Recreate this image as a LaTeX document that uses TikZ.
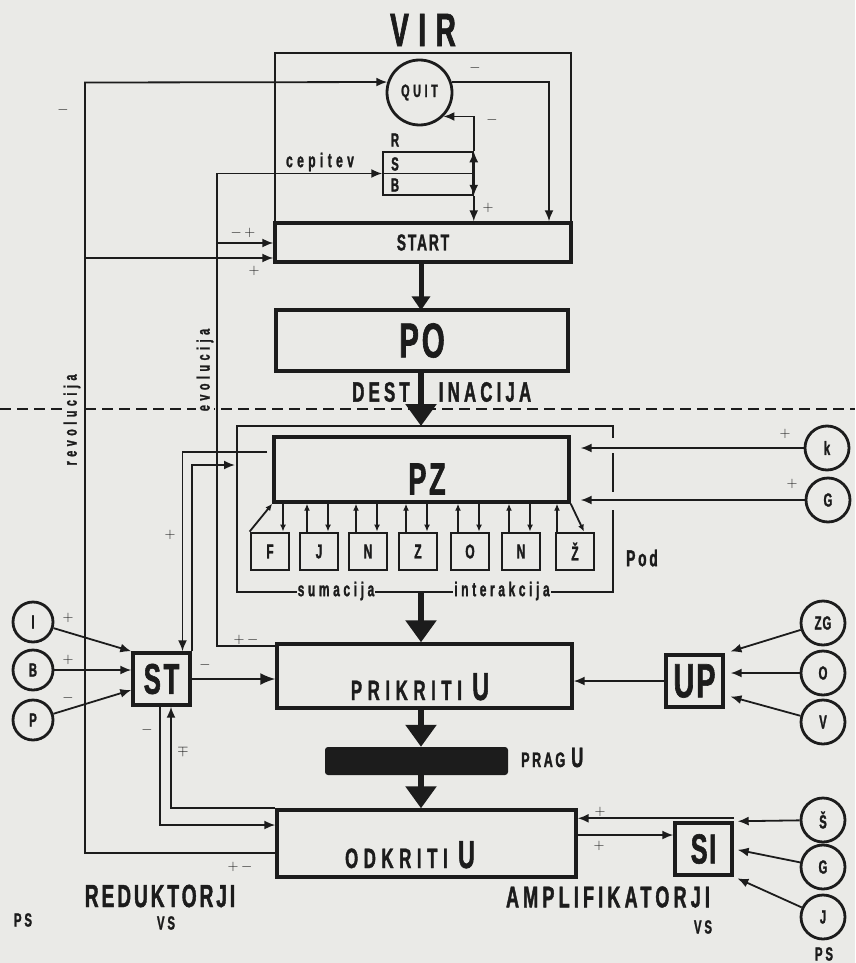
\documentclass[tikz,border=0pt]{standalone}
\usepackage{fontspec}
\usetikzlibrary{arrows.meta}
\newfontfamily\cond{Liberation Sans}[FakeStretch=0.6, FakeBold=1.3]
\newcommand\cfont[2]{\cond\bfseries\fontsize{#1}{#1}\selectfont\addfontfeature{LetterSpace=#2}}
\definecolor{paper}{RGB}{234,234,231}
\definecolor{ink}{RGB}{28,28,28}

\tikzset{
  mainbox/.style={draw=ink, text=ink, line width=3.4pt, inner sep=0pt},
  subbox/.style={draw=ink, text=ink, line width=2.8pt, minimum width=38pt, minimum height=37pt, inner sep=0pt, font=\cfont{20}{0}},
  srccircle/.style={draw=ink, text=ink, circle, line width=2.8pt, minimum size=44pt, inner sep=0pt, font=\cfont{19}{5}},
  link/.style={draw=ink, line width=1.8pt, ->},
  smalllink/.style={link, >={Latex[length=7pt,width=6pt]}},
  flowarrow/.style={draw=ink, line width=6pt, -{Triangle[length=22pt,width=30pt]}},
  signlbl/.style={text=ink, font=\fontsize{15}{15}\selectfont, inner sep=0pt},
  lbl/.style={text=ink, inner sep=1pt},
}

\begin{document}
\begin{tikzpicture}[x=1pt, y=-1pt, >={Latex[length=11pt,width=9pt]}]
\fill[paper] (0,0) rectangle (855,963);
\useasboundingbox (0,0) rectangle (855,963);

% VIR
\node[lbl, font=\cfont{47}{20}] (vir) at (423,30) {VIR};
\draw[ink, line width=1.5pt] (275,53) rectangle (571,262);
\node[mainbox, minimum width=296pt, minimum height=39pt, font=\cfont{23}{8}] (start) at (423,242.5) {START};
\node[srccircle, minimum size=65pt, font=\cfont{18}{20}] (quit) at (419.5,92.5) {QUIT};
\node[draw=ink, line width=1.5pt, minimum width=90pt, minimum height=43pt, inner sep=0pt] (rsb) at (428,173.5) {};
\draw[ink, line width=1.5pt] (rsb.west) -- (rsb.east);
\node[lbl, font=\cfont{19}{0}] (lr) at (395,140) {R};
\node[lbl, font=\cfont{19}{0}] (ls) at (395,164) {S};
\node[lbl, font=\cfont{19}{0}] (lb) at (395,185) {B};
\node[lbl, font=\cfont{20}{22}] (cepitev) at (320,162) {cepitev};

\coordinate (qsX) at (549,0);
\draw[link] (quit.18) -| (qsX |- start.north);
\draw[link] (rsb.north east) |- (quit.-45);
\draw[link] (rsb.east) -- (rsb.north east);
\draw[link] (rsb.east) -- (rsb.south east);
\draw[link] (rsb.south east) -- (rsb.south east |- start.north);

\node[signlbl] (m1) at (475,68) {$-$};
\node[signlbl] (m2) at (492,120) {$-$};
\node[signlbl] (p1) at (488,208) {$+$};

% dashed border
\draw[ink, line width=1.8pt, dash pattern=on 11pt off 6pt] (0,409) -- (855,409);

% PO
\node[mainbox, minimum width=292pt, minimum height=61pt, font=\cfont{49}{6}] (po) at (422,340.5) {PO};
\node[lbl, font=\cfont{28}{15}] (dest) at (381,392) {DEST};
\node[lbl, font=\cfont{28}{15}] (inacija) at (485,392) {INACIJA};

% Pod frame
\draw[ink, line width=1.4pt] (613,438) -- (613,426) -- (237,426) -- (237,592) -- (613,592) -- (613,510);
\draw[ink, line width=1.4pt] (613,453) -- (613,492);
\node[lbl, fill=paper, font=\cfont{20}{18}] (sumacija) at (336,591) {sumacija};
\node[lbl, fill=paper, font=\cfont{20}{18}] (interakcija) at (502,591) {interakcija};
\node[lbl, font=\cfont{23}{12}] (pod) at (642,558) {Pod};
\coordinate (podtop) at (421,426);
\coordinate (podbot) at (421,592);

% PZ
\node[mainbox, minimum width=295pt, minimum height=65pt] (pz) at (421.5,469.5) {};
\node[lbl, font=\cfont{45}{6}] (pztxt) at (427,479) {PZ};

\foreach \x/\t [count=\i] in {270/F, 319/J, 368/N, 418/Z, 470/O, 521/N, 575/Ž}
  \node[subbox] (s\i) at (\x,551.5) {\t};

\foreach \i in {2,...,6} {
  \coordinate (u\i) at ([xshift=-12pt]s\i.north);
  \coordinate (d\i) at ([xshift=9pt]s\i.north);
  \draw[smalllink] (u\i) -- (u\i |- pz.south);
  \draw[smalllink] (d\i |- pz.south) -- (d\i);
}
\coordinate (d1) at ([xshift=13pt]s1.north);
\draw[smalllink] (s1.north west) -- (pz.south west);
\draw[smalllink] (d1 |- pz.south) -- (d1);
\coordinate (u7) at ([xshift=-18pt]s7.north);
\draw[smalllink] (u7) -- (u7 |- pz.south);
\draw[smalllink] (pz.south east) -- ([xshift=9pt]s7.north);

\node[srccircle] (ck) at (827,448) {k};
\node[srccircle] (cg) at (828,500) {G};
\draw[link, shorten >=10pt] (ck) -- (ck -| pz.east);
\draw[link, shorten >=10pt] (cg) -- (cg -| pz.east);
\node[signlbl] (p2) at (785,434) {$+$};
\node[signlbl] (p3) at (792,484) {$+$};

% PRIKRITI, PRAG, ODKRITI
\node[mainbox, minimum width=295pt, minimum height=64pt] (prikriti) at (424.5,676) {};
\node[lbl, anchor=base, font=\cfont{28}{20}] (prtxt) at (420,700) {PRIKRITI {\fontsize{39}{39}\selectfont U}};
\node[fill=ink, rounded corners=3pt, minimum width=183pt, minimum height=28pt, inner sep=0pt] (prag) at (416.5,761) {};
\node[lbl, anchor=base west, font=\cfont{21}{12}] (pragtxt) at (520,767) {PRAG {\fontsize{28}{28}\selectfont U}};
\node[mainbox, minimum width=299pt, minimum height=67pt] (odkriti) at (426.5,843.5) {};
\node[lbl, anchor=base, font=\cfont{28}{20}] (odtxt) at (410,868) {ODKRITI {\fontsize{39}{39}\selectfont U}};

% main flow
\coordinate (midx) at (421,0);
\draw[draw=ink, line width=5pt, -{Triangle[length=14pt,width=18pt]}] (midx |- start.south) -- ([yshift=-2pt]midx |- po.north);
\draw[flowarrow] (midx |- po.south) -- (podtop);
\draw[flowarrow] (podbot) -- (midx |- prikriti.north);
\draw[flowarrow] (midx |- prikriti.south) -- (midx |- prag.north);
\draw[flowarrow] (midx |- prag.south) -- (midx |- odkriti.north);

% ST
\node[mainbox, minimum width=57pt, minimum height=52pt, font=\cfont{43}{6}] (st) at (161.5,679) {ST};
\node[srccircle, minimum size=40pt] (ci) at (33,622) {I};
\node[srccircle, minimum size=40pt] (cb) at (33,670) {B};
\node[srccircle, minimum size=40pt] (cp) at (33,720) {P};
\draw[link] (ci) -- (st.north west);
\draw[link] (cb) -- (cb -| st.west);
\draw[link] (cp) -- ([yshift=-11pt]st.west);
\node[signlbl] (p4) at (68,618) {$+$};
\node[signlbl] (p5) at (68,660) {$+$};
\node[signlbl] (m3) at (68,698) {$-$};

\draw[link, >={Latex[length=15pt,width=12pt]}] (st.east) -- (st.east -| prikriti.west);
\node[signlbl] (m4) at (205,665) {$-$};

\coordinate (pzOut) at (267,452);
\draw[link] (pzOut) -| ([xshift=21pt]st.north);
\coordinate (podIn) at (235,465);
\draw[link] (st.north east) |- (podIn);
\node[signlbl] (p6) at (170,535) {$+$};

\draw[link] (odkriti.north west) -| ([xshift=9.5pt]st.south);
\coordinate (odIn) at ([yshift=18.5pt]odkriti.west);
\draw[link] ([xshift=-1.5pt]st.south) |- (odIn);
\node[signlbl] (m5) at (147,730) {$-$};
\node[signlbl] (mp) at (183,751) {$\mp$};

% evolucija
\coordinate (evoTop) at (217,173.5);
\coordinate (evoS) at (217,243);
\draw[link] ([yshift=-4pt]prikriti.north west) -| (evoTop) -- (rsb.west);
\draw[link] (evoS) -- (evoS -| start.west);
\node[signlbl] (mp2) at (243,233) {$-\,+$};
\node[signlbl] (pm2) at (246,640) {$+\,-$};
\node[lbl, fill=paper, rotate=90, font=\cfont{18}{25}] (evolbl) at (205,370) {evolucija};

% revolucija
\coordinate (revTop) at (85,82.5);
\coordinate (revBot) at (85,853);
\coordinate (revS) at (85,258);
\draw[link] (revBot -| odkriti.west) -- (revBot) -- (revTop) -- (quit.162);
\draw[link] (revS) -- (revS -| start.west);
\node[signlbl] (p7) at (254,271) {$+$};
\node[signlbl] (m6) at (63,110) {$-$};
\node[signlbl] (pm3) at (240,867) {$+\,-$};
\node[lbl, fill=paper, rotate=90, font=\cfont{18}{25}] (revlbl) at (72,420) {revolucija};

% UP
\node[mainbox, minimum width=57pt, minimum height=52pt, font=\cfont{48}{4}] (up) at (694.5,681) {UP};
\node[srccircle] (czg) at (823,623) {ZG};
\node[srccircle] (co) at (823,673) {O};
\node[srccircle] (cv) at (823,722) {V};
\draw[link, shorten >=6pt] (czg) -- (up.north east);
\draw[link, shorten >=6pt] (co) -- (co -| up.east);
\draw[link, shorten >=6pt] (cv) -- ([yshift=-14pt]up.east);
\draw[link] (up.west) -- (up.west -| prikriti.east);

% SI
\node[mainbox, minimum width=57pt, minimum height=52pt, font=\cfont{42}{4}] (si) at (703.5,849) {SI};
\node[srccircle] (csh) at (823,820) {Š};
\node[srccircle] (cg2) at (823,867) {G};
\node[srccircle] (cj) at (823,917) {J};
\draw[link, shorten >=4pt] (csh) -- (si.north east);
\draw[link, shorten >=4pt] (cg2) -- (si.east);
\draw[link, shorten >=4pt] (cj) -- (si.south east);
\coordinate (siOut) at ([yshift=3pt]si.north east);
\draw[link] (siOut) -- (siOut -| odkriti.east);
\coordinate (odOut) at ([yshift=8.5pt]odkriti.east);
\draw[link] (odOut) -- (odOut -| si.west);
\node[signlbl] (p8) at (600,812) {$+$};
\node[signlbl] (p9) at (599,846) {$+$};

% bottom labels
\node[lbl, font=\cfont{32}{9}] (redu) at (160,896) {REDUKTORJI};
\node[lbl, font=\cfont{19}{15}] (vs1) at (166,923) {VS};
\node[lbl, font=\cfont{19}{15}] (ps1) at (23,920) {PS};
\node[lbl, font=\cfont{30}{14}] (ampl) at (608,897) {AMPLIFIKATORJI};
\node[lbl, font=\cfont{19}{15}] (vs2) at (703,927) {VS};
\node[lbl, font=\cfont{19}{15}] (ps2) at (824,954) {PS};
\end{tikzpicture}
\end{document}
